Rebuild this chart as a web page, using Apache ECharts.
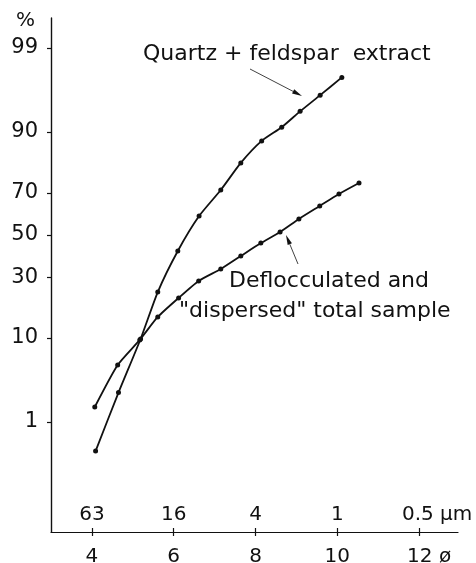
<!DOCTYPE html>
<html>
<head>
<meta charset="utf-8">
<script src="https://cdn.jsdelivr.net/npm/echarts@6/dist/echarts.min.js"></script>
<style>
  html, body { margin: 0; padding: 0; background: #fff; }
  #chart { width: 476px; height: 563px; }
</style>
</head>
<body>
<div id="chart"></div>
<script>
// grain size (phi) and cumulative percent
const quartzPhi = [4.09, 4.65, 5.19, 5.61, 6.10, 6.62, 7.15, 7.64, 8.15, 8.64, 9.09, 9.58, 10.11];
const quartzPct = [0.36, 2.5, 9.8, 23.9, 42.1, 59.3, 71.2, 81.5, 87.9, 91.0, 93.8, 95.9, 97.5];

const totalPhi = [4.07, 4.63, 5.17, 5.61, 6.12, 6.61, 7.15, 7.64, 8.13, 8.60, 9.06, 9.57, 10.04, 10.53];
const totalPct = [1.62, 5.3, 9.6, 15.4, 21.7, 28.4, 33.6, 39.7, 46.0, 51.5, 57.9, 64.1, 69.5, 74.1];

// axis ticks
const yTickPct = [1, 10, 30, 50, 70, 90, 99];
const phiTicks = [4, 6, 8, 10, 12];
const phiLabels = ['4', '6', '8', '10', '12'];
const umLabels = ['63', '16', '4', '1', '0.5'];

// probability paper: percent -> standard normal quantile (Acklam)
function probit(p) {
  const a = [-3.969683028665376e+01, 2.209460984245205e+02, -2.759285104469687e+02, 1.383577518672690e+02, -3.066479806614716e+01, 2.506628277459239e+00];
  const b = [-5.447609879822406e+01, 1.615858368580409e+02, -1.556989798598866e+02, 6.680131188771972e+01, -1.328068155288572e+01];
  const c = [-7.784894002430293e-03, -3.223964580411365e-01, -2.400758277161838e+00, -2.549732539343734e+00, 4.374664141464968e+00, 2.938163982698783e+00];
  const d = [7.784695709041462e-03, 3.224671290700398e-01, 2.445134137142996e+00, 3.754408661907416e+00];
  const plow = 0.02425;
  let q, r;
  if (p < plow) {
    q = Math.sqrt(-2 * Math.log(p));
    return (((((c[0]*q+c[1])*q+c[2])*q+c[3])*q+c[4])*q+c[5]) / ((((d[0]*q+d[1])*q+d[2])*q+d[3])*q+1);
  }
  if (p <= 1 - plow) {
    q = p - 0.5; r = q * q;
    return (((((a[0]*r+a[1])*r+a[2])*r+a[3])*r+a[4])*r+a[5])*q / (((((b[0]*r+b[1])*r+b[2])*r+b[3])*r+b[4])*r+1);
  }
  q = Math.sqrt(-2 * Math.log(1 - p));
  return -(((((c[0]*q+c[1])*q+c[2])*q+c[3])*q+c[4])*q+c[5]) / ((((d[0]*q+d[1])*q+d[2])*q+d[3])*q+1);
}

const toPoints = (xs, ps) => xs.map((x, i) => [x, probit(ps[i] / 100)]);
const yTickZ = yTickPct.map(p => probit(p / 100));

const nearestIdx = (arr, v) => {
  let best = 0;
  arr.forEach((a, i) => { if (Math.abs(a - v) < Math.abs(arr[best] - v)) best = i; });
  return best;
};

const ink = '#111';
const font = 'DejaVu Sans';
const noteFont = '22px "DejaVu Sans"';

// arrow = thin line + narrow filled head
function arrow(x1, y1, x2, y2) {
  const len = Math.hypot(x2 - x1, y2 - y1);
  const ux = (x2 - x1) / len, uy = (y2 - y1) / len;
  const hl = 10, hw = 2.3;
  const bx = x2 - ux * hl, by = y2 - uy * hl;
  return [
    { type: 'line', shape: { x1: x1, y1: y1, x2: bx, y2: by }, style: { stroke: ink, lineWidth: 0.8 } },
    { type: 'polygon', shape: { points: [[x2, y2], [bx - uy * hw, by + ux * hw], [bx + uy * hw, by - ux * hw]] }, style: { fill: ink } }
  ];
}

const chart = echarts.init(document.getElementById('chart'));

const option = {
  animation: false,
  backgroundColor: '#fff',
  grid: { left: 51, right: 18, top: 18, bottom: 31, outerBoundsMode: 'none', containLabel: false },
  xAxis: [
    {
      type: 'value', min: 3, max: 12.95, position: 'bottom',
      axisLine: { onZero: false, lineStyle: { color: ink, width: 1.2 } },
      axisTick: { customValues: phiTicks, length: 4, lineStyle: { color: ink, width: 1.2 } },
      axisLabel: {
        customValues: phiTicks, margin: 15, color: ink, fontFamily: font, fontSize: 20,
        formatter: v => {
          const s = phiLabels[nearestIdx(phiTicks, v)];
          return v === 12 ? '{p|}' + s + '{u| ø}' : s;
        },
        rich: { p: { width: 20 }, u: { fontFamily: font, fontSize: 20, color: ink } }
      },
      splitLine: { show: false }
    },
    {
      type: 'value', min: 3, max: 12.95, position: 'bottom',
      axisLine: { show: false, onZero: false },
      axisTick: { customValues: phiTicks, inside: true, length: 4, lineStyle: { color: ink, width: 1.2 } },
      axisLabel: {
        customValues: phiTicks, inside: true, margin: 7, color: ink, fontFamily: font, fontSize: 20,
        formatter: v => {
          const s = umLabels[nearestIdx(phiTicks, v)];
          return v === 12 ? '{p|}' + s + '{u| μm}' : s;
        },
        rich: { p: { width: 36 }, u: { fontFamily: font, fontSize: 20, color: ink } }
      },
      splitLine: { show: false }
    }
  ],
  yAxis: {
    type: 'value', min: -3.694, max: 2.699,
    axisLine: { show: true, onZero: false, lineStyle: { color: ink, width: 1.4 } },
    axisTick: { show: true, customValues: yTickZ, length: 4, lineStyle: { color: ink, width: 1.2 } },
    axisLabel: {
      customValues: yTickZ, margin: 13, color: ink, fontFamily: font, fontSize: 21,
      formatter: v => String(yTickPct[nearestIdx(yTickZ, v)])
    },
    splitLine: { show: false }
  },
  series: [
    {
      name: 'Quartz + feldspar extract', type: 'line', smooth: 0.2,
      data: toPoints(quartzPhi, quartzPct),
      symbol: 'circle', symbolSize: 5,
      lineStyle: { color: ink, width: 1.8 }, itemStyle: { color: ink }
    },
    {
      name: 'Deflocculated and "dispersed" total sample', type: 'line', smooth: 0.2,
      data: toPoints(totalPhi, totalPct),
      symbol: 'circle', symbolSize: 5,
      lineStyle: { color: ink, width: 1.8 }, itemStyle: { color: ink }
    }
  ],
  graphic: [
    { type: 'text', left: 16, top: 11, style: { text: '%', font: '20px "DejaVu Sans"', fill: ink } },
    { type: 'text', left: 143, top: 43, style: { text: 'Quartz + feldspar  extract', font: noteFont, fill: ink } },
    { type: 'text', left: 229, top: 270, style: { text: 'Deflocculated and', font: noteFont, fill: ink } },
    { type: 'text', left: 179, top: 300, style: { text: '"dispersed" total sample', font: noteFont, fill: ink } },
    ...arrow(250, 69, 302, 96),
    ...arrow(298, 264, 286, 235)
  ]
};

chart.setOption(option);
</script>
</body>
</html>
